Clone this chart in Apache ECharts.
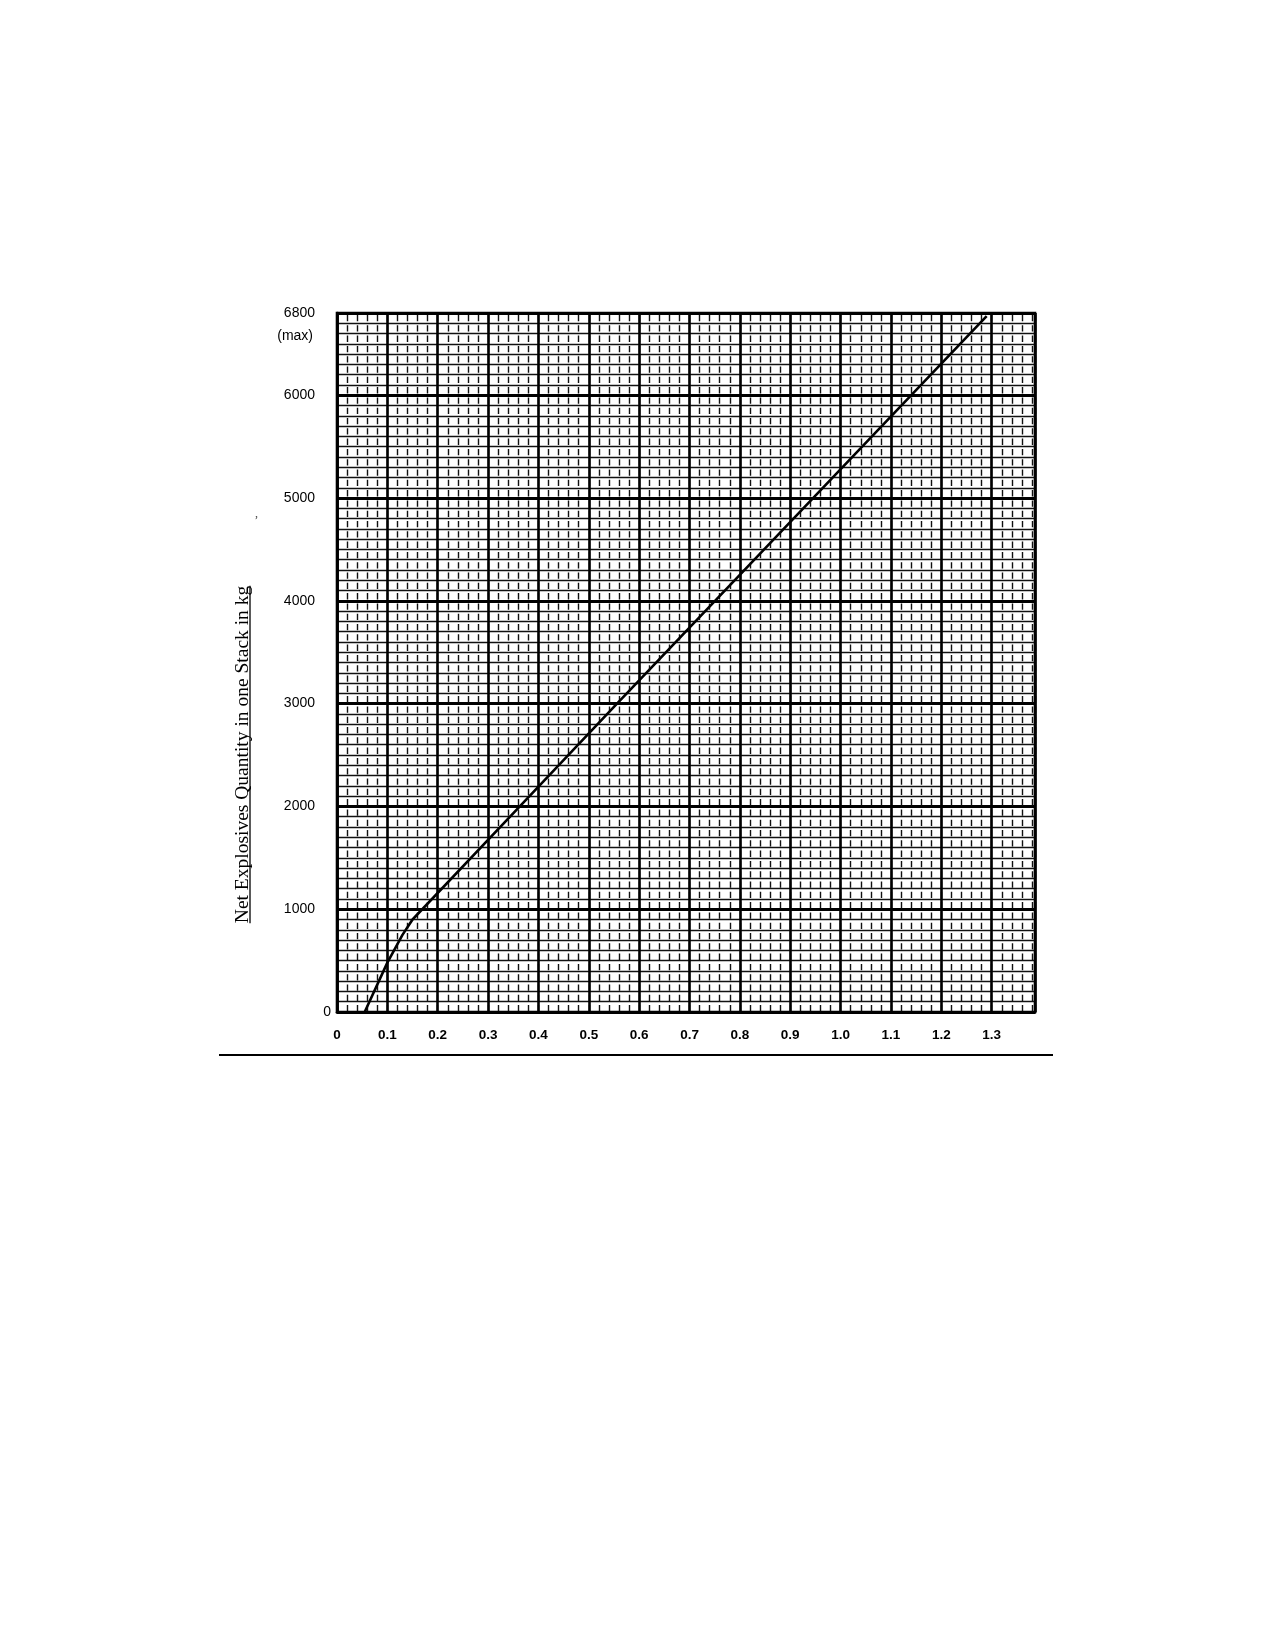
<!DOCTYPE html>
<html><head><meta charset="utf-8">
<script src="https://cdn.jsdelivr.net/npm/echarts@6/dist/echarts.min.js"></script>
<style>html,body{margin:0;padding:0;background:#fff}#c{width:1275px;height:1650px}</style>
</head><body><div id="c"></div>
<script>
// ---- data ----
const xTickLabels = ['0','0.1','0.2','0.3','0.4','0.5','0.6','0.7','0.8','0.9','1.0','1.1','1.2','1.3'];
const yTickLabels = ['0','1000','2000','3000','4000','5000','6000'];
const yMaxLabel = ['6800','(max)'];
const yAxisTitle = 'Net Explosives Quantity in one Stack in kg';
const lineX = [0.055, 0.100, 0.130, 0.150, 0.363, 0.556, 1.290];
const lineY = [0, 480, 750, 900, 2000, 3000, 6770];
const xMax = 1.386;
const yMax = 6800;

// ---- chart ----
const chart = echarts.init(document.getElementById('c'), null, {renderer:'canvas'});
const sans = '"Liberation Sans", Arial, sans-serif';
const serif = '"Liberation Serif", "Times New Roman", serif';

function xFmt(v){
  const i = Math.round(v/0.1);
  if (Math.abs(v - i*0.1) > 1e-6 || i >= xTickLabels.length) return '';
  return xTickLabels[i];
}
function yFmt(v){
  if (Math.abs(v - yMax) < 1e-6) return '{s| }\n{a|' + yMaxLabel[0] + '}\n{b|' + yMaxLabel[1] + '}';
  const i = Math.round(v/1000);
  if (Math.abs(v - i*1000) > 1e-6 || i >= yTickLabels.length) return '';
  if (i === 0) return yTickLabels[0];
  return '{p|' + yTickLabels[i] + '}';
}

const titleFont = '19.5px ' + serif;
const cv = document.createElement('canvas').getContext('2d');
cv.font = titleFont;
const titleW = cv.measureText(yAxisTitle).width;

const lblStyle = {fontFamily:sans, fontSize:14, color:'#000'};

chart.setOption({
  animation:false,
  backgroundColor:'#fff',
  grid:{left:337, right:240, top:313, bottom:638, show:true, borderColor:'#000', borderWidth:2.6, backgroundColor:'transparent'},
  xAxis:[
    {type:'value', min:0, max:xMax, interval:0.02, position:'bottom',
     axisLine:{show:false}, axisTick:{show:false}, axisLabel:{show:false},
     splitLine:{show:true, lineStyle:{color:'#111', width:1.4, type:[6.3,4], dashOffset:8.3}}},
    {type:'value', min:0, max:xMax, interval:0.1, position:'bottom',
     axisLine:{show:true, onZero:false, lineStyle:{color:'#000', width:2.6}},
     axisTick:{show:false},
     axisLabel:{margin:16, formatter:xFmt, color:'#000', fontFamily:sans, fontSize:13.5, fontWeight:'bold'},
     splitLine:{show:true, lineStyle:{color:'#000', width:2.6}}}
  ],
  yAxis:[
    {type:'value', min:0, max:yMax, interval:100, position:'left',
     axisLine:{show:false}, axisTick:{show:false}, axisLabel:{show:false},
     splitLine:{show:true, lineStyle:{color:'#111', width:1.3}}},
    {type:'value', min:0, max:yMax, interval:1000, position:'left',
     axisLine:{show:true, onZero:false, lineStyle:{color:'#000', width:2.6}},
     axisTick:{show:false},
     axisLabel:{margin:6, formatter:yFmt, color:'#000', fontFamily:sans, fontSize:14,
       rich:{
         p:Object.assign({padding:[0,16,0,0]}, lblStyle),
         s:Object.assign({lineHeight:23, height:23}, lblStyle),
         a:Object.assign({lineHeight:23, height:23, padding:[0,16,0,0]}, lblStyle),
         b:Object.assign({lineHeight:23, height:23, padding:[0,18,0,0]}, lblStyle)
       }},
     splitLine:{show:true, lineStyle:{color:'#000', width:2.8}}}
  ],
  series:[{
    type:'line', xAxisIndex:1, yAxisIndex:1,
    data: lineX.map((x,i)=>[x, lineY[i]]),
    showSymbol:false, symbol:'none', smooth:false,
    lineStyle:{color:'#000', width:2.6}, z:10
  }],
  graphic:[
    {type:'line', shape:{x1:219, y1:1055, x2:1053, y2:1055}, style:{stroke:'#000', lineWidth:1.8}},
    {type:'group', x:243, y:754.5, rotation:Math.PI/2, children:[
      {type:'text', x:0, y:0, style:{text:yAxisTitle, font:titleFont, fill:'#000', textAlign:'center', textVerticalAlign:'middle'}},
      {type:'line', shape:{x1:-titleW/2, y1:7, x2:titleW/2, y2:7}, style:{stroke:'#000', lineWidth:1.3}}
    ]},
    {type:'text', x:255, y:508, style:{text:',', font:'12px ' + serif, fill:'#444'}}
  ]
});
</script></body></html>
